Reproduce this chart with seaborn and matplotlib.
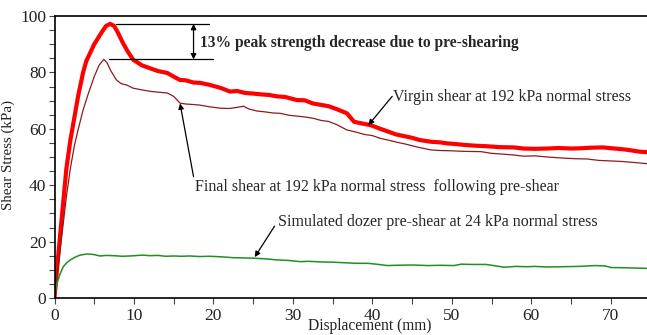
import numpy as np
import matplotlib
matplotlib.use("Agg")
import matplotlib.pyplot as plt
from matplotlib.ticker import MultipleLocator
import seaborn as sns

# Virgin shear at 192 kPa (thick red)
virgin_x = [0, 0.5, 1, 1.5, 2, 2.5, 3, 3.6, 4, 5, 6, 6.5, 7, 7.5, 8, 8.6, 9.2, 9.9, 11, 12, 13,
            14.2, 15, 15.8, 16.5, 17.5, 18.3, 19.5, 20.9, 22.1, 23, 24, 25, 26, 27, 28, 29, 30.5,
            31.5, 32.5, 33.5, 34.5, 35.5, 36.8, 37.7, 38.5, 39.8, 41, 42, 43, 44, 45, 46, 47.4,
            48.5, 49.5, 50.5, 51.5, 53, 54.5, 56, 57.8, 59, 60.5, 62, 63.5, 65, 66.3, 67.5, 69,
            70.5, 72, 73.6, 74.6]
virgin_y = [0, 16, 31, 46, 56, 64, 72, 80, 84, 90, 94.5, 96.5, 97.2, 96.5, 94, 90.5, 87.5, 84.5,
            82.5, 81.5, 80.5, 79.8, 78.5, 77.3, 77.2, 76.4, 76.3, 75.6, 74.5, 73.2, 73.4, 72.7,
            72.5, 72.2, 72.0, 71.5, 71.3, 70.2, 70.1, 69.0, 68.5, 68.0, 67.0, 65.5, 62.5, 62.0,
            61.3, 60.0, 59.0, 58.0, 57.4, 56.8, 56.0, 55.4, 55.2, 54.8, 54.6, 54.3, 54.0, 53.8,
            53.5, 53.4, 53.0, 52.9, 53.0, 53.2, 53.0, 53.1, 53.3, 53.4, 53.0, 52.6, 51.9, 51.7]

# Final shear at 192 kPa following pre-shear (thin dark red)
final_x = [0, 0.5, 1, 1.5, 2, 2.5, 3, 3.6, 4.2, 5, 5.6, 6.2, 6.6, 7.1, 7.8, 8.4, 9.1, 9.9, 11,
           12, 13, 14.2, 15, 15.8, 16.5, 17.5, 18.3, 19.5, 20.9, 22, 23, 23.8, 24.5, 25.5, 26.5,
           27.5, 28.4, 29.5, 30.5, 31.5, 32.6, 33.5, 34.5, 35.5, 36.8, 38, 39, 40, 41, 42, 43,
           44, 45, 46, 47.4, 48.5, 50, 51.5, 53.7, 55, 56.5, 57.8, 59, 60.5, 62, 64.1, 65.5, 67,
           68.5, 70, 71.5, 73.6, 74.6]
final_y = [0, 12, 24, 36, 46, 54, 60, 66.7, 72, 78.5, 82.5, 84.6, 83.5, 80.5, 77.3, 76.0, 75.5,
           74.4, 73.8, 73.3, 73.0, 72.7, 71.5, 69.1, 68.8, 68.6, 68.4, 67.8, 67.3, 67.2, 67.6,
           68.0, 67.0, 66.3, 66.0, 65.6, 65.5, 64.8, 64.5, 64.2, 63.7, 63.0, 62.6, 61.5, 59.6,
           58.8, 58.0, 57.6, 56.6, 56.0, 55.3, 54.7, 54.0, 53.3, 52.5, 52.3, 52.2, 52.0, 51.9,
           51.3, 51.0, 50.7, 50.3, 50.4, 50.0, 49.6, 49.4, 49.3, 48.8, 48.6, 48.4, 47.9, 47.6]

# Simulated dozer pre-shear at 24 kPa (green)
dozer_x = [0, 0.3, 0.7, 1.1, 1.5, 2.0, 2.6, 3.2, 4.1, 5, 5.7, 6.5, 7.5, 8.5, 9.5, 10.5, 11.2, 12,
           13, 14, 15, 16, 17, 18.3, 19.5, 21, 22.5, 24, 25.1, 26.5, 28, 29.5, 30.9, 32, 33.5,
           35, 36.5, 38, 39.4, 40.5, 41.9, 43, 45, 47, 48.5, 50.3, 51.2, 52.5, 54.3, 55.5, 56.6,
           58, 59.5, 60.4, 62, 64, 66, 68, 69.2, 70.1, 72, 74.6]
dozer_y = [0, 5.2, 8.5, 11.1, 12.4, 13.5, 14.5, 15.2, 15.6, 15.4, 14.9, 15.1, 15.0, 14.8, 14.9,
           15.1, 15.2, 15.0, 15.1, 14.8, 14.9, 14.8, 14.9, 14.7, 14.8, 14.6, 14.3, 14.2, 14.1,
           13.9, 13.5, 13.3, 12.9, 13.0, 12.8, 12.7, 12.5, 12.3, 12.3, 12.0, 11.5, 11.6, 11.7,
           11.5, 11.6, 11.5, 12.0, 11.9, 11.9, 11.4, 10.9, 11.2, 11.1, 11.2, 11.0, 11.1, 11.2,
           11.5, 11.4, 10.8, 10.7, 10.5]

sns.set_style("ticks")
plt.rcParams['font.family'] = ['Liberation Serif', 'DejaVu Serif']
FS = 11.5
TICK_FS = 12.5

fig = plt.figure(figsize=(6.47, 3.35), dpi=100)
ax = fig.add_axes([54.5 / 647, 37 / 335, 592.5 / 647, 282 / 335])

sns.lineplot(x=virgin_x, y=virgin_y, color='#ff0000', lw=3.0, ax=ax, sort=False, estimator=None)
sns.lineplot(x=final_x, y=final_y, color='#8e1a1a', lw=0.9, ax=ax, sort=False, estimator=None)
sns.lineplot(x=dozer_x, y=dozer_y, color='#1f8f1f', lw=1.1, ax=ax, sort=False, estimator=None)

ax.set_xlim(0, 74.57)
ax.set_ylim(0, 100)
ax.xaxis.set_major_locator(MultipleLocator(10))
ax.xaxis.set_minor_locator(MultipleLocator(5))
ax.yaxis.set_major_locator(MultipleLocator(20))
ax.yaxis.set_minor_locator(MultipleLocator(5))
ax.tick_params(which='both', direction='out', length=4, width=0.8, color='#444444',
               labelsize=TICK_FS, labelcolor='#222222', pad=2)
ax.tick_params(axis='x', pad=3)
for s in ['left', 'bottom', 'top']:
    ax.spines[s].set_linewidth(1.2)
    ax.spines[s].set_color('black')
ax.spines['right'].set_visible(False)

ax.set_xlabel('Displacement (mm)', fontsize=11.2, color='#222222')
ax.set_ylabel('Shear Stress (kPa)', fontsize=10.8, color='#222222')
ax.xaxis.set_label_coords(0.532, -0.071)
ax.yaxis.set_label_coords(-0.066, 0.507)

# peak markers and difference arrow
peak_v = max(virgin_y)
peak_f = max(final_y)
ax.plot([7.7, 19.5], [peak_v, peak_v], color='black', lw=0.9)
ax.plot([6.9, 20.0], [peak_f, peak_f], color='black', lw=0.9)
ax.annotate('', xy=(17.5, peak_f), xytext=(17.5, peak_v),
            arrowprops=dict(arrowstyle='<|-|>', color='black', lw=0.9, mutation_scale=8,
                            shrinkA=0, shrinkB=0))
ax.text(18.3, 90.4, '13% peak strength decrease due to pre-shearing', fontsize=11.2,
        fontweight='bold', va='center', ha='left')

arrow = dict(arrowstyle='-|>', color='black', lw=0.9, mutation_scale=8, shrinkA=0, shrinkB=0)
ax.annotate('', xy=(39.5, 61.3), xytext=(42.5, 71.5), arrowprops=arrow)
ax.text(42.6, 71.4, 'Virgin shear at 192 kPa normal stress', fontsize=FS, va='center')

ax.annotate('', xy=(15.8, 69.0), xytext=(17.5, 43.0), arrowprops=arrow)
ax.text(17.7, 39.5, 'Final shear at 192 kPa normal stress  following pre-shear',
        fontsize=FS, va='center')

ax.annotate('', xy=(25.2, 14.5), xytext=(27.7, 25.5), arrowprops=arrow)
ax.text(28.1, 27.0, 'Simulated dozer pre-shear at 24 kPa normal stress', fontsize=FS,
        va='center')

fig.savefig('out.png', dpi=100)
